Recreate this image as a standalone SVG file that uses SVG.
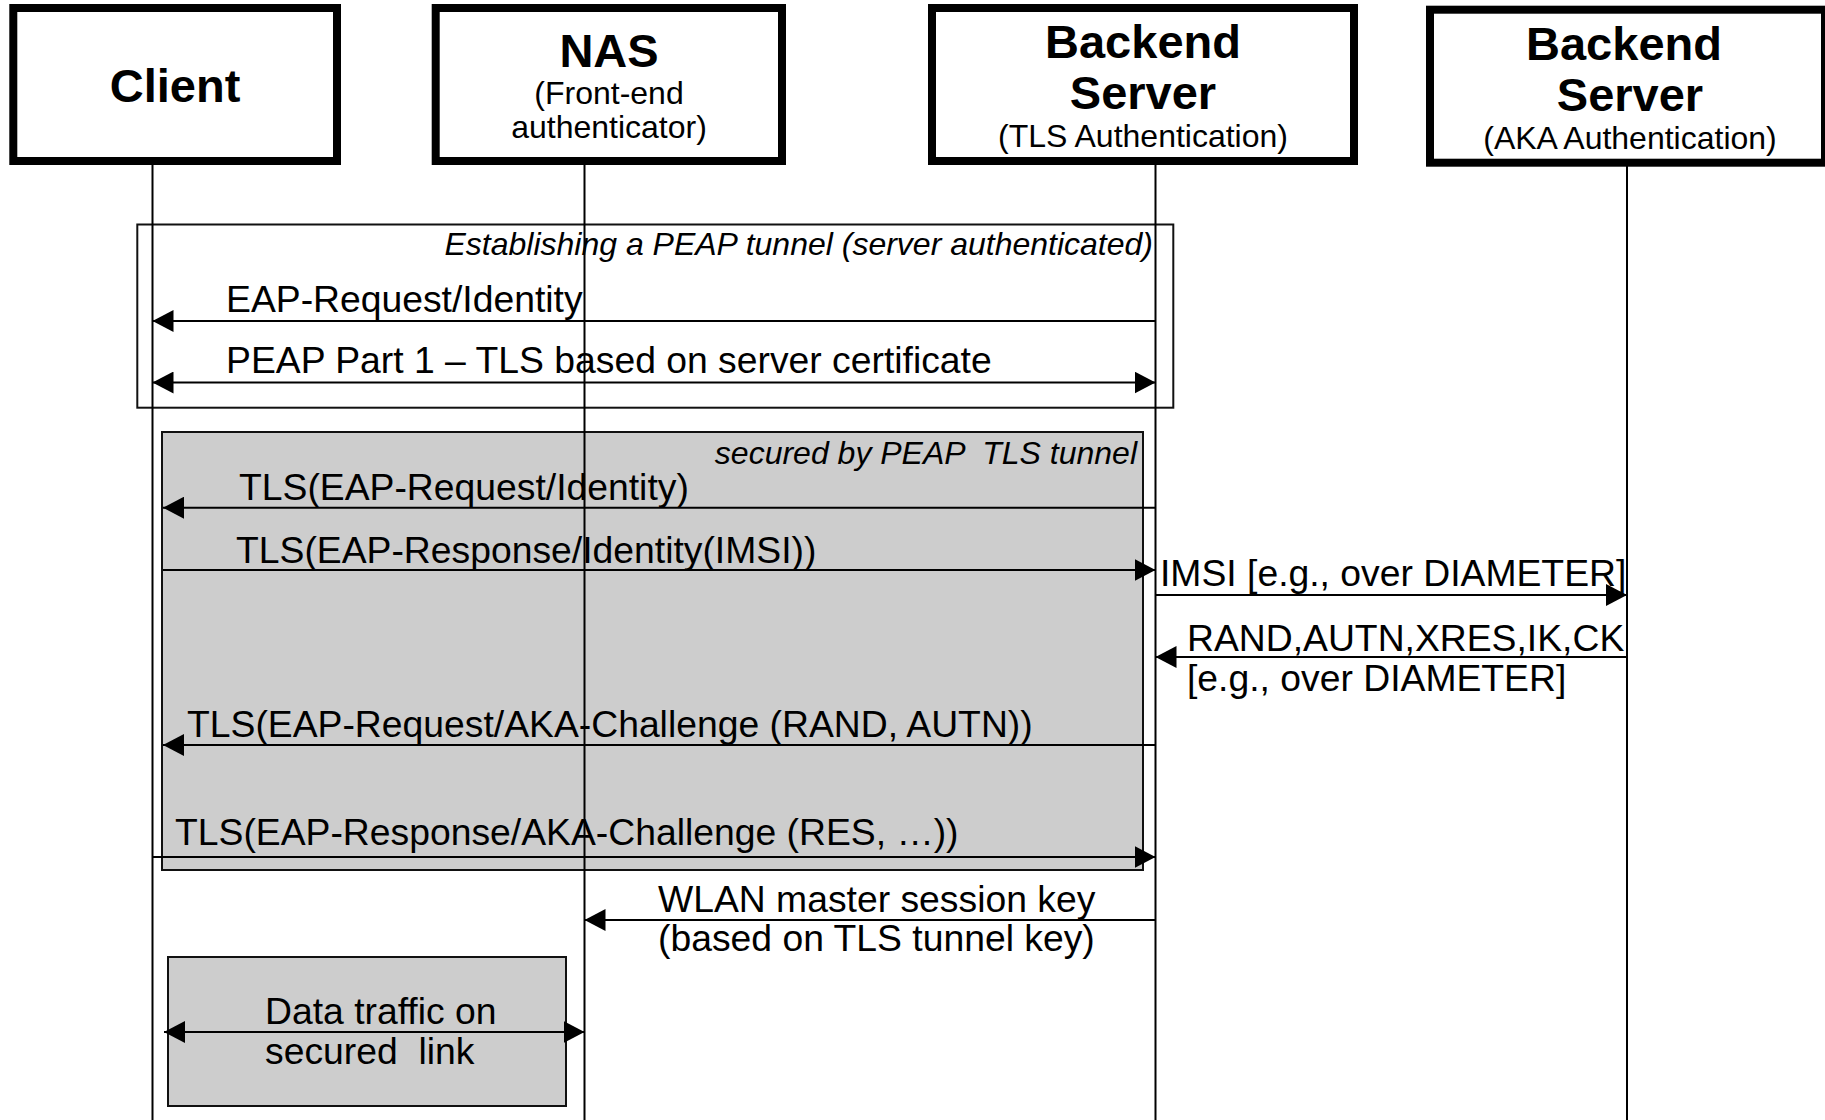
<svg xmlns="http://www.w3.org/2000/svg" width="1825" height="1120" viewBox="0 0 1825 1120">
<style>
.hdr{fill:#fff;stroke:#000;stroke-width:8}
.t{font-family:"Liberation Sans",Arial,sans-serif;fill:#000}
.b{font-weight:bold;font-size:47px;text-anchor:middle}
.s{font-size:32px;text-anchor:middle}
.m{font-size:37.3px}
.i{font-size:32px;font-style:italic;text-anchor:end}
.life{stroke:#000;stroke-width:2}
.msg{stroke:#000;stroke-width:2;fill:none}
.frame{fill:none;stroke:#111;stroke-width:2}
.gray{fill:#cdcdcd;stroke:#111;stroke-width:2}
</style>
<defs>
<marker id="ah" markerUnits="userSpaceOnUse" markerWidth="22" markerHeight="22" refX="21" refY="11" orient="auto-start-reverse" viewBox="0 0 22 22">
<path d="M0,0 L21,11 L0,22 z" fill="#000"/>
</marker>
</defs>

<g id="frame-peap">
<rect class="frame" x="137.3" y="224.5" width="1036" height="183.2"/>
<text class="t i" x="1153" y="255">Establishing a PEAP tunnel (server authenticated)</text>
</g>
<g id="frame-secured">
<rect class="gray" x="162" y="432" width="981" height="438"/>
<text class="t i" x="1137" y="464" xml:space="preserve">secured by PEAP  TLS tunnel</text>
</g>
<g id="frame-data">
<rect class="gray" x="168" y="957" width="398" height="149"/>
</g>

<g id="lifelines">
<line class="life" x1="152.5" y1="165" x2="152.5" y2="1120"/>
<line class="life" x1="584.5" y1="165" x2="584.5" y2="1120"/>
<line class="life" x1="1155.5" y1="165" x2="1155.5" y2="1120"/>
<line class="life" x1="1627" y1="166" x2="1627" y2="1120"/>
</g>

<g id="client">
<rect class="hdr" x="13.3" y="8" width="323.7" height="153"/>
<text class="t b" x="175" y="102">Client</text>
</g>
<g id="nas">
<rect class="hdr" x="435.7" y="8" width="346.3" height="153"/>
<text class="t b" x="609" y="67">NAS</text>
<text class="t s" x="609" y="104">(Front-end</text>
<text class="t s" x="609" y="138">authenticator)</text>
</g>
<g id="backend-tls">
<rect class="hdr" x="932" y="8" width="422" height="153"/>
<text class="t b" x="1143" y="58">Backend</text>
<text class="t b" x="1143" y="109">Server</text>
<text class="t s" x="1143" y="147">(TLS Authentication)</text>
</g>
<g id="backend-aka">
<rect class="hdr" x="1430" y="9.7" width="395" height="153"/>
<text class="t b" x="1624" y="60">Backend</text>
<text class="t b" x="1630" y="111">Server</text>
<text class="t s" x="1630" y="149">(AKA Authentication)</text>
</g>

<g id="connectors">
<line class="msg" x1="1155.5" y1="321" x2="152.5" y2="321" marker-end="url(#ah)"/>
<line class="msg" x1="152.5" y1="382.5" x2="1155.5" y2="382.5" marker-start="url(#ah)" marker-end="url(#ah)"/>
<line class="msg" x1="1155.5" y1="507.7" x2="163" y2="507.7" marker-end="url(#ah)"/>
<line class="msg" x1="163" y1="570" x2="1155.5" y2="570" marker-end="url(#ah)"/>
<line class="msg" x1="1155.5" y1="595" x2="1627" y2="595" marker-end="url(#ah)"/>
<line class="msg" x1="1627" y1="657" x2="1155.5" y2="657" marker-end="url(#ah)"/>
<line class="msg" x1="1155.5" y1="745" x2="163" y2="745" marker-end="url(#ah)"/>
<line class="msg" x1="152.5" y1="857" x2="1155.5" y2="857" marker-end="url(#ah)"/>
<line class="msg" x1="1155.5" y1="920" x2="584.5" y2="920" marker-end="url(#ah)"/>
<line class="msg" x1="164" y1="1032" x2="584.5" y2="1032" marker-start="url(#ah)" marker-end="url(#ah)"/>
</g>

<g id="labels">
<text class="t m" x="226" y="312">EAP-Request/Identity</text>
<text class="t m" x="226" y="373">PEAP Part 1 – TLS based on server certificate</text>
<text class="t m" x="239" y="500">TLS(EAP-Request/Identity)</text>
<text class="t m" x="236" y="563">TLS(EAP-Response/Identity(IMSI))</text>
<text class="t m" x="1160" y="586">IMSI [e.g., over DIAMETER]</text>
<text class="t m" x="1187" y="651">RAND,AUTN,XRES,IK,CK</text>
<text class="t m" x="1187" y="691">[e.g., over DIAMETER]</text>
<text class="t m" x="187" y="737">TLS(EAP-Request/AKA-Challenge (RAND, AUTN))</text>
<text class="t m" x="175" y="845">TLS(EAP-Response/AKA-Challenge (RES, …))</text>
<text class="t m" x="658" y="912">WLAN master session key</text>
<text class="t m" x="658" y="951">(based on TLS tunnel key)</text>
<text class="t m" x="265" y="1024">Data traffic on</text>
<text class="t m" x="265" y="1064" xml:space="preserve">secured  link</text>
</g>
</svg>
